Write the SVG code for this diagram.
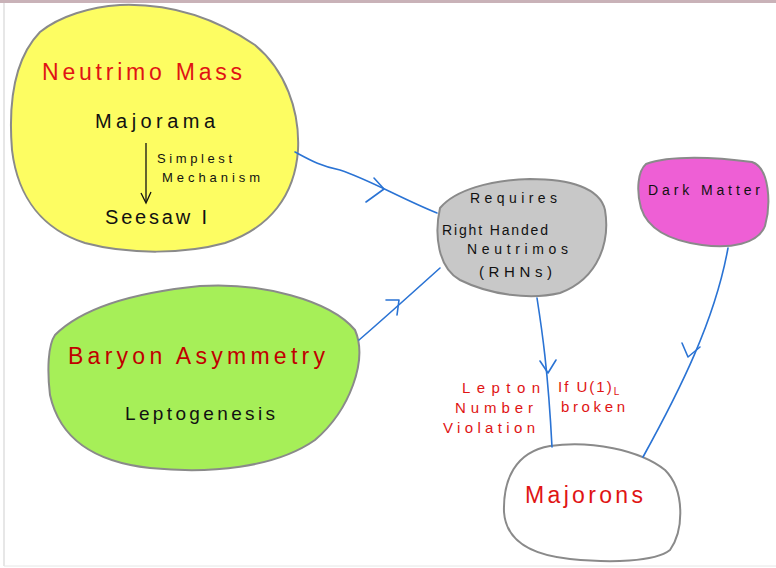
<svg xmlns="http://www.w3.org/2000/svg" width="776" height="568" viewBox="0 0 776 568">
<style>
.blob{stroke:#8a8a8a;stroke-width:2;stroke-linejoin:round}
.conn{fill:none;stroke:#2a73d4;stroke-width:1.6;stroke-linecap:round;stroke-linejoin:round}
.t{font-family:"Liberation Sans","DejaVu Sans",sans-serif;fill:#111}
.r{fill:#e01414}
.dr{fill:#c00000}
</style>
<rect x="0" y="0" width="776" height="568" fill="#ffffff"/>
<rect x="0" y="0" width="776" height="3" fill="#c9b2b8"/>
<line x1="4" y1="3" x2="4" y2="566" stroke="#cfcfcf" stroke-width="1"/>
<line x1="4" y1="566" x2="776" y2="566" stroke="#e6e6e6" stroke-width="1"/>

<g id="neutrino-mass">
<path class="blob" fill="#fdfd62" d="M40,32 C60,16 90,7 120,5 C170,3 215,18 255,45 C285,70 300,110 298,150 C295,195 270,228 225,243 C185,254 130,255 85,243 C45,230 18,200 12,150 C8,100 15,58 40,32 Z"/>
<text class="t r" x="42" y="80" font-size="23" textLength="200" lengthAdjust="spacing">Neutrimo Mass</text>
<text class="t" x="95" y="128" font-size="20" textLength="120" lengthAdjust="spacing">Majorama</text>
<line x1="146" y1="143" x2="146" y2="202" stroke="#111" stroke-width="1.3"/>
<path d="M141,193 L146,203 L151,192" fill="none" stroke="#111" stroke-width="1.3"/>
<text class="t" x="157" y="163" font-size="13" textLength="75" lengthAdjust="spacing">Simplest</text>
<text class="t" x="162" y="182" font-size="13" textLength="98" lengthAdjust="spacing">Mechanism</text>
<text class="t" x="105" y="224" font-size="20" textLength="102" lengthAdjust="spacing">Seesaw I</text>
</g>

<g id="baryon-asymmetry">
<path class="blob" fill="#a6ef58" d="M55,335 C85,305 140,292 200,286 C260,282 330,300 355,330 C368,360 350,410 315,440 C275,468 210,474 150,468 C95,462 60,440 50,395 C47,370 48,345 55,335 Z"/>
<text class="t dr" x="68" y="364" font-size="23" textLength="257" lengthAdjust="spacing">Baryon Asymmetry</text>
<text class="t" x="125" y="420" font-size="19" textLength="150" lengthAdjust="spacing">Leptogenesis</text>
</g>

<g id="rhn">
<path class="blob" fill="#c8c8c8" d="M440,208 C455,190 490,180 530,179 C570,179 600,188 605,210 C610,240 600,278 560,293 C530,300 490,295 460,280 C438,268 434,235 440,208 Z"/>
<text class="t" x="470" y="203" font-size="14" textLength="87" lengthAdjust="spacing">Requires</text>
<text class="t" x="442" y="235" font-size="14" textLength="106" lengthAdjust="spacing">Right Handed</text>
<text class="t" x="467" y="254" font-size="14" textLength="101" lengthAdjust="spacing">Neutrimos</text>
<text class="t" x="479" y="277" font-size="15" textLength="73" lengthAdjust="spacing">(RHNs)</text>
</g>

<g id="dark-matter">
<path class="blob" fill="#ee5fd5" d="M646,164 C670,155 715,157 752,162 C770,168 771,205 765,226 C758,244 730,249 702,245 C672,241 648,230 641,208 C636,190 638,171 646,164 Z"/>
<text class="t" x="648" y="195" font-size="14" textLength="112" lengthAdjust="spacing">Dark Matter</text>
</g>

<g id="majorons">
<path class="blob" fill="#ffffff" d="M550,446 C590,440 640,450 665,470 C685,490 684,530 670,550 C655,562 610,563 570,559 C530,555 506,540 504,512 C503,480 515,452 550,446 Z"/>
<text class="t r" x="525" y="503" font-size="23" textLength="118" lengthAdjust="spacing">Majorons</text>
</g>

<g id="edge-labels">
<text class="t r" x="462" y="393" font-size="15" textLength="78" lengthAdjust="spacing">Lepton</text>
<text class="t r" x="455" y="413" font-size="15" textLength="78" lengthAdjust="spacing">Number</text>
<text class="t r" x="443" y="433" font-size="15" textLength="92" lengthAdjust="spacing">Violation</text>
<text class="t r" x="558" y="392" font-size="15" letter-spacing="2">If U(1)<tspan font-size="10" dy="3">L</tspan></text>
<text class="t r" x="561" y="412" font-size="15" textLength="64" lengthAdjust="spacing">broken</text>
</g>

<g id="connectors">
<path class="conn" d="M295,152 C310,160 320,166 340,170 C370,180 400,198 437,213"/>
<path class="conn" d="M374,178 L384,189 L366,202"/>
<path class="conn" d="M359,340 C380,322 410,295 440,268"/>
<path class="conn" d="M386,300 L399,300 L397,315"/>
<path class="conn" d="M537,298 C542,330 548,370 552,447"/>
<path class="conn" d="M540,361 L548,373 L556,360"/>
<path class="conn" d="M728,248 C715,320 680,390 643,457"/>
<path class="conn" d="M682,343 L688,357 L700,347"/>
</g>
</svg>
